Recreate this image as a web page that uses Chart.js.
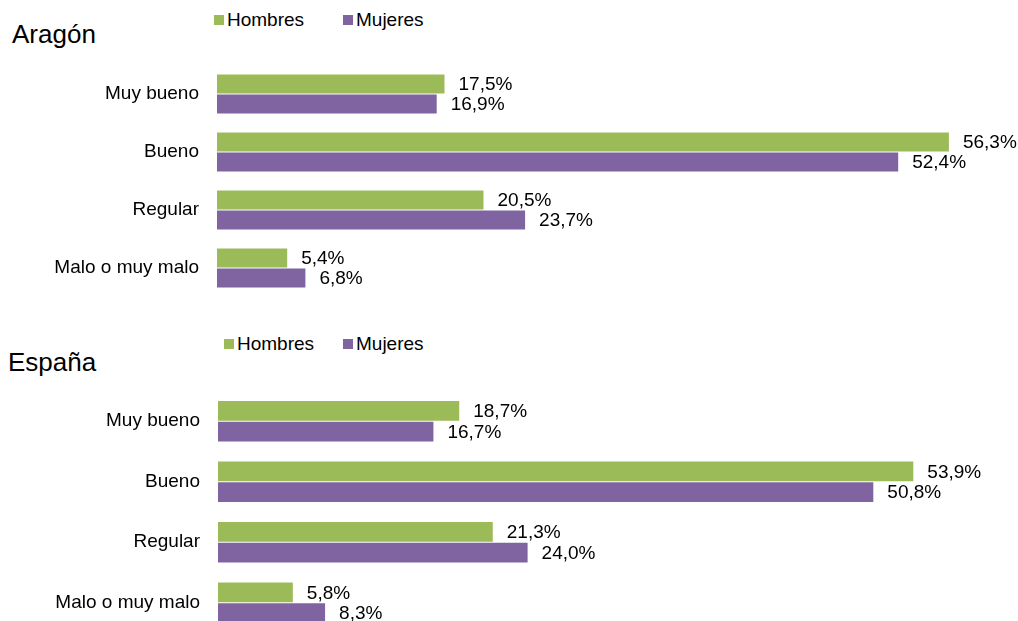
<!DOCTYPE html>
<html>
<head>
<meta charset="utf-8">
<script src="https://cdn.jsdelivr.net/npm/chart.js@4/dist/chart.umd.min.js"></script>
<style>
  html, body { margin:0; padding:0; background:#fff; width:1018px; height:621px; overflow:hidden; }
  body { position:relative; font-family:"Liberation Sans", Arial, sans-serif; color:#000; }
  .cv { position:absolute; left:0; }
  .title { position:absolute; font-size:26px; line-height:26px; }
  .leg { position:absolute; font-size:19px; line-height:20px; height:20px; white-space:nowrap; display:flex; align-items:center; }
  .sw { display:inline-block; width:10px; height:10px; margin-right:3px; }
</style>
</head>
<body>
<div class="title" style="left:12px;top:21px;">Aragón</div>
<div class="leg" style="left:214px;top:10px;"><span class="sw" style="background:#9BBB59"></span>Hombres</div>
<div class="leg" style="left:343px;top:10px;"><span class="sw" style="background:#8064A2"></span>Mujeres</div>

<div class="title" style="left:8px;top:349px;">España</div>
<div class="leg" style="left:224px;top:334px;"><span class="sw" style="background:#9BBB59"></span>Hombres</div>
<div class="leg" style="left:343px;top:334px;"><span class="sw" style="background:#8064A2"></span>Mujeres</div>

<div class="cv" style="top:0;width:1018px;height:319px;"><canvas id="c1"></canvas></div>
<div class="cv" style="top:320px;width:1018px;height:335px;"><canvas id="c2"></canvas></div>

<script>
const categories = ["Muy bueno", "Bueno", "Regular", "Malo o muy malo"];
const seriesNames = ["Hombres", "Mujeres"];
const aragonHombres = [17.5, 56.3, 20.5, 5.4];
const aragonMujeres = [16.9, 52.4, 23.7, 6.8];
const espanaHombres = [18.7, 53.9, 21.3, 5.8];
const espanaMujeres = [16.7, 50.8, 24.0, 8.3];
const colors = ["#9BBB59", "#8064A2"];

Chart.defaults.font.family = '"Liberation Sans", Arial, sans-serif';
Chart.defaults.color = "#000";

const labelPlugin = {
  id: "barLabels",
  afterDatasetsDraw(chart) {
    const ctx = chart.ctx;
    ctx.save();
    ctx.font = '19px "Liberation Sans", Arial, sans-serif';
    ctx.fillStyle = "#000";
    ctx.textAlign = "left";
    ctx.textBaseline = "middle";
    chart.data.datasets.forEach((ds, i) => {
      const meta = chart.getDatasetMeta(i);
      meta.data.forEach((bar, j) => {
        const v = ds.data[j];
        ctx.fillText(v.toFixed(1).replace(".", ",") + "%", bar.x + 14, bar.y + 1);
      });
    });
    ctx.restore();
  }
};

function makeChart(id, h, m, axisW, pad) {
  new Chart(document.getElementById(id), {
    type: "bar",
    data: {
      labels: categories,
      datasets: [
        { label: seriesNames[0], data: h, backgroundColor: colors[0], categoryPercentage: 0.69, barPercentage: 0.95 },
        { label: seriesNames[1], data: m, backgroundColor: colors[1], categoryPercentage: 0.69, barPercentage: 0.95 }
      ]
    },
    options: {
      indexAxis: "y",
      responsive: true,
      maintainAspectRatio: false,
      animation: false,
      layout: { padding: pad },
      plugins: { legend: { display: false }, tooltip: { enabled: false } },
      scales: {
        x: { display: false, min: 0, max: 60 },
        y: {
          grid: { display: false },
          border: { display: false },
          ticks: { font: { size: 19 }, color: "#000", padding: 10 },
          afterFit(scale) { scale.width = axisW; }
        }
      }
    },
    plugins: [labelPlugin]
  });
}

makeChart("c1", aragonHombres, aragonMujeres, 217, { top: 65, bottom: 22, left: 0, right: 21 });
makeChart("c2", espanaHombres, espanaMujeres, 218, { top: 71, bottom: 22, left: 0, right: 26 });
</script>
</body>
</html>
